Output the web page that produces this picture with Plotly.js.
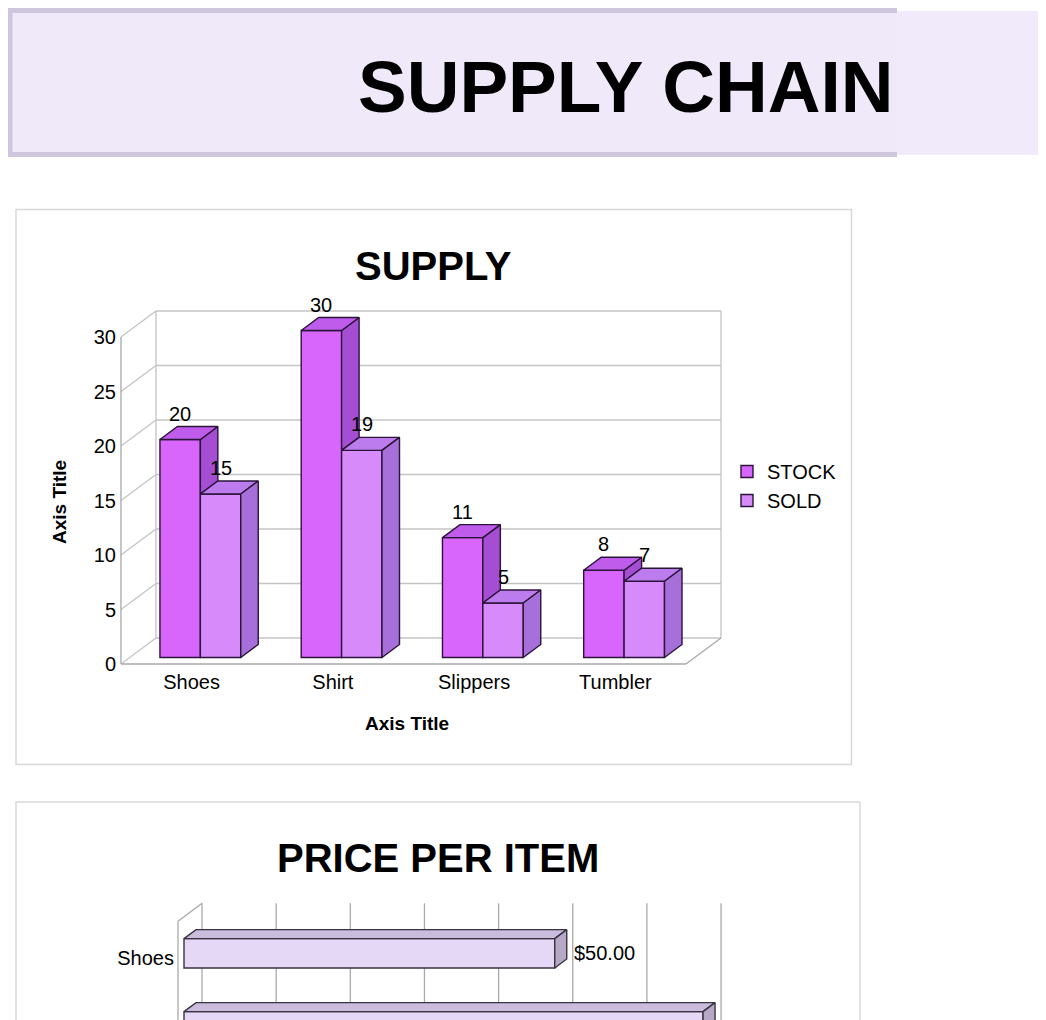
<!DOCTYPE html>
<html><head><meta charset="utf-8">
<script src="https://cdn.plot.ly/plotly-3.0.1.min.js"></script>
<style>html,body{margin:0;padding:0;background:#fff}#chart{width:1046px;height:1020px}</style>
</head><body><div id="chart"></div>
<script>
// ---- data ----
const categories = ["Shoes", "Shirt", "Slippers", "Tumbler"];
const stockValues = [20, 30, 11, 8];
const soldValues = [15, 19, 5, 7];
const seriesNames = ["STOCK", "SOLD"];
const yTicks = [0, 5, 10, 15, 20, 25, 30];
const priceCategories = ["Shoes", "Shirt"];
const priceValues = [50, 70];
const priceGridTicks = [0, 10, 20, 30, 40, 50, 60, 70];

// ---- page helpers ----
const W = 1046, H = 1020;
const PX = p => p / W, PY = p => 1 - p / H;
const FONT = "Liberation Sans, Arial, sans-serif";

// ---- chart 1 geometry (front plane: category i centre px = 191.6 + i*141.25, value v px = 664 - v*10.9)
const ux1 = 141.25, uy1 = 10.9, cx1 = 191.6, cy1 = 664;
const dX = 35 / ux1, dY = 26 / uy1;      // full depth offset in data units
const f0 = 0.25, fd = 0.5;               // bar front depth, bar depth
const barW = 40.4 / ux1;
const base1 = f0 * dY;

const stockX = categories.map((c, i) => i + f0 * dX - barW / 2);
const soldX = categories.map((c, i) => i + f0 * dX + barW / 2);

function topFace(xs, vals, base) {
  const X = [], Y = [];
  xs.forEach((xc, i) => {
    const t = vals[i] + base, xl = xc - barW / 2, xr = xc + barW / 2;
    X.push(xl, xr, xr + fd * dX, xl + fd * dX, xl, null);
    Y.push(t, t, t + fd * dY, t + fd * dY, t, null);
  });
  return {X, Y};
}
function sideFace(xs, vals, lows, base) {
  const X = [], Y = [];
  xs.forEach((xc, i) => {
    const t = vals[i] + base, lo = (lows ? lows[i] : 0) + base, xr = xc + barW / 2;
    if (t <= lo) return;
    X.push(xr, xr + fd * dX, xr + fd * dX, xr, xr, null);
    Y.push(t, t + fd * dY, lo + fd * dY, lo, t, null);
  });
  return {X, Y};
}

const cStockFront = "#d866fd", cStockTop = "#bf5cec", cStockSide = "#a54dd3";
const cSoldFront = "#d78bfb", cSoldTop = "#bd7ced", cSoldSide = "#a66fd9";
const edge = "#2a1438";

const stockTop = topFace(stockX, stockValues, base1);
const stockSide = sideFace(stockX, stockValues, soldValues, base1);
const soldTop = topFace(soldX, soldValues, base1);
const soldSide = sideFace(soldX, soldValues, null, base1);

function poly(p, fill, xa, ya, lineCol) {
  return {type: "scatter", mode: "lines", x: p.X, y: p.Y, fill: "toself", fillcolor: fill,
    line: {color: lineCol, width: 1.4}, xaxis: xa, yaxis: ya, hoverinfo: "skip", showlegend: false};
}

const traces = [
  {type: "bar", name: seriesNames[0], x: stockX, y: stockValues, base: base1, width: barW,
   marker: {color: cStockFront, line: {color: edge, width: 1.4}}, xaxis: "x", yaxis: "y", hoverinfo: "skip"},
  {type: "bar", name: seriesNames[1], x: soldX, y: soldValues, base: base1, width: barW,
   marker: {color: cSoldFront, line: {color: edge, width: 1.4}}, xaxis: "x", yaxis: "y", hoverinfo: "skip"},
  poly(stockSide, cStockSide, "x", "y", edge),
  poly(stockTop, cStockTop, "x", "y", edge),
  poly(soldTop, cSoldTop, "x", "y", edge),
  poly(soldSide, cSoldSide, "x", "y", edge)
];

// ---- chart 2 geometry (front plane: value v px = 178 + v*7.415, category c px = 957.8 + c*73)
const ux2 = 7.415, uy2 = 73, cx2 = 178, cy2 = 957.8;
const dX2 = 24 / ux2, dY2 = 18 / uy2;
const barH = 29.3 / uy2;
const base2 = f0 * dX2;
const priceY = priceCategories.map((c, i) => i - f0 * dY2);
const edge2 = "#3a3340";
(function () {
  const TX = [], TY = [], SX = [], SY = [];
  priceValues.forEach((v, i) => {
    const yc = priceY[i], yt = yc - barH / 2, yb = yc + barH / 2;
    const x0 = base2, x1 = base2 + v;
    TX.push(x0, x1, x1 + fd * dX2, x0 + fd * dX2, x0, null);
    TY.push(yt, yt, yt - fd * dY2, yt - fd * dY2, yt, null);
    SX.push(x1, x1 + fd * dX2, x1 + fd * dX2, x1, x1, null);
    SY.push(yt, yt - fd * dY2, yb - fd * dY2, yb, yt, null);
  });
  traces.push({type: "bar", orientation: "h", x: priceValues, y: priceY, base: base2, width: barH,
    marker: {color: "#e5d8f6", line: {color: edge2, width: 1.4}}, xaxis: "x2", yaxis: "y2",
    hoverinfo: "skip", showlegend: false});
  traces.push(poly({X: TX, Y: TY}, "#c9bcdc", "x2", "y2", edge2));
  traces.push(poly({X: SX, Y: SY}, "#b5a9c7", "x2", "y2", edge2));
})();

// ---- shapes ----
const shapes = [];
// banner
shapes.push({type: "rect", xref: "paper", yref: "paper", x0: PX(897), x1: PX(1038), y0: PY(155), y1: PY(11),
  fillcolor: "#f0eafa", line: {width: 0}, layer: "below"});
shapes.push({type: "rect", xref: "paper", yref: "paper", x0: PX(8), x1: PX(897), y0: PY(157), y1: PY(8),
  fillcolor: "#cec6dd", line: {width: 0}, layer: "below"});
shapes.push({type: "rect", xref: "paper", yref: "paper", x0: PX(12.5), x1: PX(897), y0: PY(152), y1: PY(13),
  fillcolor: "#efe9f9", line: {width: 0}, layer: "below"});
// chart boxes
shapes.push({type: "rect", xref: "paper", yref: "paper", x0: PX(16), x1: PX(851.5), y0: PY(764.5), y1: PY(209.5),
  fillcolor: "#ffffff", line: {color: "#d9d9d9", width: 1.5}, layer: "below"});
shapes.push({type: "rect", xref: "paper", yref: "paper", x0: PX(16), x1: PX(860), y0: PY(1060), y1: PY(802),
  fillcolor: "#ffffff", line: {color: "#d9d9d9", width: 1.5}, layer: "below"});

function ln(xa, ya, x0, y0, x1, y1, col) {
  shapes.push({type: "line", xref: xa, yref: ya, x0, y0, x1, y1, line: {color: col, width: 1.3}, layer: "below"});
}
const gridCol = "#c4c4c4", axCol = "#a8a8a8";
const xL = -0.5, xR = categories.length - 0.5, yTop = yTicks[yTicks.length - 1];
yTicks.forEach(t => {
  ln("x", "y", xL, t, xL + dX, t + dY, gridCol);
  ln("x", "y", xL + dX, t + dY, xR + dX, t + dY, gridCol);
});
ln("x", "y", xL + dX, dY, xL + dX, yTop + dY, gridCol);
ln("x", "y", xR + dX, dY, xR + dX, yTop + dY, gridCol);
ln("x", "y", xL, 0, xL, yTop, axCol);
ln("x", "y", xL, 0, xR, 0, axCol);
ln("x", "y", xR, 0, xR + dX, dY, axCol);

const yBot2 = 1.2;
priceGridTicks.forEach(k => ln("x2", "y2", dX2 + k, -0.5 - dY2, dX2 + k, yBot2, "#a9a9a9"));
ln("x2", "y2", 0, -0.5, 0, yBot2, "#a9a9a9");
ln("x2", "y2", 0, -0.5, dX2, -0.5 - dY2, "#a9a9a9");

// ---- annotations ----
const ann = [];
ann.push({xref: "paper", yref: "paper", x: PX(626), y: PY(86), text: "<b>SUPPLY CHAIN</b>", showarrow: false,
  xanchor: "center", yanchor: "middle", font: {family: FONT, size: 73, color: "#000"}});
ann.push({xref: "paper", yref: "paper", x: PX(433), y: PY(266), text: "<b>SUPPLY</b>", showarrow: false,
  xanchor: "center", yanchor: "middle", font: {family: FONT, size: 40, color: "#000"}});
ann.push({xref: "paper", yref: "paper", x: PX(438), y: PY(858), text: "<b>PRICE PER ITEM</b>", showarrow: false,
  xanchor: "center", yanchor: "middle", font: {family: FONT, size: 40, color: "#000"}});
ann.push({xref: "paper", yref: "paper", x: PX(407), y: PY(723), text: "<b>Axis Title</b>", showarrow: false,
  xanchor: "center", yanchor: "middle", font: {family: FONT, size: 19, color: "#000"}});
ann.push({xref: "paper", yref: "paper", x: PX(59), y: PY(502), text: "<b>Axis Title</b>", showarrow: false,
  textangle: -90, xanchor: "center", yanchor: "middle", font: {family: FONT, size: 19, color: "#000"}});
stockValues.forEach((v, i) => ann.push({xref: "x", yref: "y", x: stockX[i], y: v + base1, yshift: 26,
  text: String(v), showarrow: false, font: {family: FONT, size: 20, color: "#000"}}));
soldValues.forEach((v, i) => ann.push({xref: "x", yref: "y", x: soldX[i], y: v + base1, yshift: 26,
  text: String(v), showarrow: false, font: {family: FONT, size: 20, color: "#000"}}));
priceValues.forEach((v, i) => ann.push({xref: "x2", yref: "y2", x: base2 + v, y: priceY[i], xshift: 17,
  xanchor: "left", yanchor: "middle", text: "$" + v.toFixed(2), showarrow: false,
  font: {family: FONT, size: 20, color: "#000"}}));

const layout = {
  width: W, height: H, margin: {l: 0, r: 0, t: 0, b: 0},
  paper_bgcolor: "#ffffff", plot_bgcolor: "rgba(0,0,0,0)",
  font: {family: FONT, size: 20, color: "#000"},
  barmode: "overlay", bargap: 0,
  showlegend: true,
  legend: {x: PX(727), y: PY(486), xanchor: "left", yanchor: "middle", bgcolor: "rgba(0,0,0,0)",
    font: {family: FONT, size: 20, color: "#000"}, tracegroupgap: 0},
  xaxis: {domain: [PX(117), PX(726)], range: [(117 - cx1) / ux1, (726 - cx1) / ux1], anchor: "y",
    tickvals: categories.map((c, i) => i), ticktext: categories, showgrid: false, zeroline: false,
    showline: false, ticks: "", tickfont: {size: 20}, fixedrange: true},
  yaxis: {domain: [PY(668), PY(306)], range: [(cy1 - 668) / uy1, (cy1 - 306) / uy1], anchor: "x",
    tickvals: yTicks, showgrid: false, zeroline: false, showline: false, ticks: "", tickfont: {size: 20}},
  xaxis2: {domain: [PX(175), PX(725)], range: [(175 - cx2) / ux2, (725 - cx2) / ux2], anchor: "y2",
    showticklabels: false, showgrid: false, zeroline: false, showline: false, ticks: ""},
  yaxis2: {domain: [0, PY(900)], range: [(1020 - cy2) / uy2, (900 - cy2) / uy2], anchor: "x2",
    tickvals: priceCategories.map((c, i) => i), ticktext: priceCategories,
    showgrid: false, zeroline: false, showline: false, ticks: "", tickfont: {size: 20}},
  shapes: shapes, annotations: ann
};

Plotly.newPlot("chart", traces, layout, {staticPlot: true, displayModeBar: false});
</script></body></html>
